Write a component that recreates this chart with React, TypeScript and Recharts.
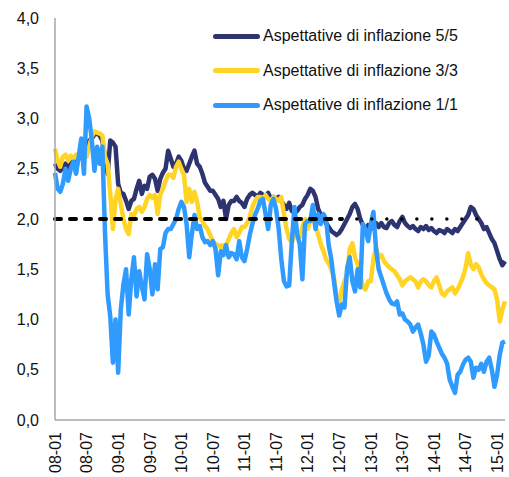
import React from "react";
import { LineChart, Line, XAxis, YAxis } from "recharts";

// half-month steps starting January 2008 (index * 0.5 = months since 2008-01)
const navy55 = [
  2.55, 2.50, 2.48, 2.52, 2.55, 2.50, 2.55, 2.58, 2.55, 2.60,
  2.65, 2.68, 2.72, 2.78, 2.80, 2.84, 2.85, 2.83, 2.78, 2.62,
  2.45, 2.78, 2.76, 2.72, 2.35, 2.26, 2.25, 2.18, 2.10, 2.18,
  2.20, 2.30, 2.38, 2.25, 2.33, 2.30, 2.42, 2.44, 2.40, 2.28,
  2.40, 2.46, 2.50, 2.68, 2.60, 2.52, 2.55, 2.62, 2.58, 2.50,
  2.48, 2.55, 2.62, 2.68, 2.55, 2.52, 2.45, 2.36, 2.32, 2.28,
  2.28, 2.24, 2.20, 2.12, 2.18, 2.00, 2.14, 2.18, 2.18, 2.22,
  2.18, 2.16, 2.12, 2.20, 2.24, 2.26, 2.24, 2.22, 2.26, 2.24,
  2.22, 2.26, 2.20, 2.22, 2.20, 2.22, 2.18, 2.14, 2.10, 2.16,
  2.08, 2.06, 2.08, 2.12, 2.14, 2.20, 2.24, 2.30, 2.28, 2.22,
  2.10, 2.04, 2.02, 1.96, 1.92, 1.88, 1.86, 1.84, 1.86, 1.90,
  1.95, 2.00, 2.05, 2.12, 2.15, 2.10, 2.00, 1.94, 1.88, 1.94,
  1.90, 1.93, 1.96, 1.92, 1.96, 1.92, 1.91, 1.96, 1.98, 1.94,
  1.92, 1.98, 2.02, 1.96, 1.93, 1.91, 1.93, 1.90, 1.88, 1.92,
  1.90, 1.93, 1.89, 1.91, 1.88, 1.86, 1.89, 1.88, 1.86, 1.90,
  1.88, 1.86, 1.90, 1.88, 1.92, 1.96, 2.00, 2.04, 2.12, 2.10,
  2.04, 2.00, 1.96, 1.90, 1.92, 1.86, 1.80, 1.76, 1.68, 1.60,
  1.54, 1.58,
];

const yellow33 = [
  2.70, 2.58, 2.52, 2.62, 2.64, 2.58, 2.63, 2.60, 2.64, 2.62,
  2.65, 2.70, 2.62, 2.72, 2.82, 2.87, 2.86, 2.85, 2.83, 2.62,
  2.55, 2.25, 1.90, 2.20, 2.30, 2.15, 2.00, 1.90, 1.85, 2.05,
  2.03, 2.10, 2.12, 2.07, 2.12, 2.20, 2.24, 2.21, 2.24, 2.05,
  2.24, 2.30, 2.38, 2.44, 2.44, 2.41, 2.52, 2.57, 2.50, 2.44,
  2.17, 2.30, 2.17, 2.27, 2.17, 2.02, 1.98, 1.93, 1.90, 1.84,
  1.78, 1.75, 1.74, 1.72, 1.74, 1.74, 1.80, 1.86, 1.90, 1.82,
  1.86, 1.92, 1.92, 1.96, 2.02, 2.12, 2.18, 2.22, 2.22, 2.20,
  2.24, 2.20, 2.18, 2.22, 2.20, 2.18, 2.22, 2.05, 1.90, 1.80,
  1.77, 1.83, 1.85, 1.82, 1.92, 2.00, 1.90, 1.98, 2.05, 1.92,
  1.85, 1.75, 1.68, 1.60, 1.56, 1.50, 1.42, 1.22, 1.15, 1.30,
  1.38, 1.45, 1.70, 1.76, 1.62, 1.55, 1.45, 1.32, 1.30, 1.38,
  1.38, 1.60, 1.72, 1.62, 1.64, 1.58, 1.55, 1.52, 1.50, 1.48,
  1.44, 1.40, 1.34, 1.38, 1.40, 1.42, 1.40, 1.38, 1.32, 1.38,
  1.40, 1.38, 1.34, 1.32, 1.38, 1.42, 1.34, 1.26, 1.24, 1.28,
  1.30, 1.32, 1.26, 1.30, 1.36, 1.42, 1.51, 1.66, 1.55, 1.50,
  1.55, 1.52, 1.45, 1.40, 1.36, 1.34, 1.32, 1.30, 1.20, 0.98,
  1.10, 1.18,
];

const blue11 = [
  2.46, 2.30, 2.27, 2.35, 2.50, 2.38, 2.50, 2.57, 2.45, 2.62,
  2.80, 2.45, 3.12, 3.00, 2.78, 2.48, 2.72, 2.55, 2.72, 1.86,
  1.25, 1.03, 0.57, 1.00, 0.47, 1.10, 1.35, 1.50, 1.05, 1.40,
  1.62, 1.23, 1.48, 1.33, 1.20, 1.65, 1.50, 1.25, 1.55, 1.30,
  1.70, 1.72, 1.86, 1.90, 1.90, 1.95, 2.00, 2.10, 2.17, 2.12,
  1.95, 1.62, 1.85, 2.04, 1.90, 1.93, 1.82, 1.77, 1.78, 1.74,
  1.78, 1.70, 1.44, 1.68, 1.64, 1.74, 1.62, 1.66, 1.65, 1.60,
  1.78, 1.62, 1.58, 1.70, 1.84, 1.95, 2.04, 2.10, 2.18, 2.20,
  2.05, 1.90, 2.14, 2.20, 2.10, 1.90, 1.60, 1.38, 1.33, 1.34,
  1.78, 2.12, 1.85, 1.75, 1.40, 1.95, 1.98, 1.98, 2.14, 1.90,
  2.05, 1.95, 2.05, 2.00, 1.74, 1.60, 1.38, 1.18, 1.04, 1.15,
  1.12, 1.51, 1.62, 1.38, 1.28, 1.50, 1.32, 1.95, 1.90, 1.78,
  1.95, 2.07, 1.70, 1.50, 1.42, 1.34, 1.26, 1.20, 1.16, 1.15,
  1.18, 1.05, 1.06, 1.00, 0.98, 0.95, 0.88, 0.92, 0.95, 0.86,
  0.75, 0.58, 0.64, 0.88, 0.85, 0.78, 0.72, 0.66, 0.62, 0.56,
  0.40, 0.33, 0.27, 0.45, 0.48, 0.55, 0.60, 0.62, 0.58, 0.42,
  0.52, 0.50, 0.56, 0.48, 0.58, 0.62, 0.50, 0.33, 0.45, 0.65,
  0.77, 0.78,
];

const xTickLabels = [
  "08-01", "08-07", "09-01", "09-07", "10-01", "10-07", "11-01", "11-07",
  "12-01", "12-07", "13-01", "13-07", "14-01", "14-07", "15-01",
];
const yTicks = [0, 0.5, 1, 1.5, 2, 2.5, 3, 3.5, 4];
const targetLevel = 2;
const dashEnd = 54.5; // months: dashed part of the 2% line
const dotEnd = 82.5; // months: dotted part of the 2% line

const seriesNames = [
  "Aspettative di inflazione 5/5",
  "Aspettative di inflazione 3/3",
  "Aspettative di inflazione 1/1",
];
const colors = ["#2e3470", "#ffd424", "#2f9bff"];

const data = navy55.map((v, i) => {
  const t = i * 0.5;
  return {
    t,
    a: v,
    b: yellow33[i],
    c: blue11[i],
    dash: t <= dashEnd ? targetLevel : null,
    dotted: t >= dashEnd && t <= dotEnd ? targetLevel : null,
  };
});
const xTicks = xTickLabels.map((_, i) => i * 6);
const lastT = (navy55.length - 1) * 0.5;

const FONT = "'Liberation Sans', Arial, sans-serif";

const XTick = (props: any) => {
  const { x, y, payload } = props;
  const idx = Math.round(payload.value / 6);
  return (
    <g transform={`translate(${x},${y})`}>
      <text
        textAnchor="end"
        transform="rotate(-90)"
        dy="0.36em"
        fontSize={16}
        fontFamily={FONT}
        fill="#111"
      >
        {xTickLabels[idx]}
      </text>
    </g>
  );
};

const LegendBox = () => (
  <div
    style={{
      position: "absolute",
      left: 213,
      top: 19,
      fontFamily: FONT,
      fontSize: 16,
      color: "#111",
    }}
  >
    {seriesNames.map((n, i) => (
      <div
        key={n}
        style={{ display: "flex", alignItems: "center", height: 34.5 }}
      >
        <span
          style={{
            display: "inline-block",
            width: 47,
            height: 5,
            borderRadius: 3,
            background: colors[i],
            marginRight: 3,
          }}
        />
        <span style={{ whiteSpace: "nowrap" }}>{n}</span>
      </div>
    ))}
  </div>
);

export default function App() {
  return (
    <div style={{ position: "absolute", left: 0, top: 0, width: 509, height: 477, background: "#fff" }}>
      <LineChart
        width={509}
        height={477}
        data={data}
        margin={{ top: 18, right: 4, bottom: 0, left: 0 }}
      >
        <XAxis
          dataKey="t"
          type="number"
          domain={[0, lastT]}
          ticks={xTicks}
          interval={0}
          tickLine={false}
          tickSize={0}
          tickMargin={12}
          height={57}
          axisLine={{ stroke: "#a6a6a6", strokeWidth: 1.5 }}
          tick={<XTick />}
        />
        <YAxis
          type="number"
          domain={[0, 4]}
          ticks={yTicks}
          interval={0}
          width={55}
          tickLine={false}
          tickSize={0}
          tickMargin={16}
          axisLine={{ stroke: "#a6a6a6", strokeWidth: 1.5 }}
          tick={{ fontSize: 16, fontFamily: FONT, fill: "#111" }}
          tickFormatter={(v: number) => v.toFixed(1).replace(".", ",")}
        />
        <Line
          dataKey="a"
          name={seriesNames[0]}
          stroke={colors[0]}
          strokeWidth={4.5}
          dot={false}
          activeDot={false}
          strokeLinejoin="round"
          isAnimationActive={false}
        />
        <Line
          dataKey="b"
          name={seriesNames[1]}
          stroke={colors[1]}
          strokeWidth={4.5}
          dot={false}
          activeDot={false}
          strokeLinejoin="round"
          isAnimationActive={false}
        />
        <Line
          dataKey="c"
          name={seriesNames[2]}
          stroke={colors[2]}
          strokeWidth={4.5}
          dot={false}
          activeDot={false}
          strokeLinejoin="round"
          isAnimationActive={false}
        />
        <Line
          dataKey="dash"
          stroke="#000"
          strokeWidth={4}
          strokeDasharray="6 9"
          strokeLinecap="round"
          dot={false}
          activeDot={false}
          connectNulls={false}
          isAnimationActive={false}
        />
        <Line
          dataKey="dotted"
          stroke="#000"
          strokeWidth={3.5}
          strokeDasharray="0 15"
          strokeLinecap="round"
          dot={false}
          activeDot={false}
          connectNulls={false}
          isAnimationActive={false}
        />
      </LineChart>
      <LegendBox />
    </div>
  );
}
